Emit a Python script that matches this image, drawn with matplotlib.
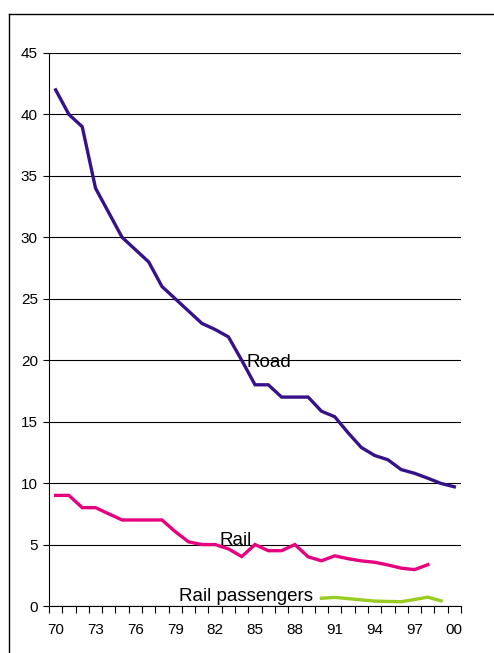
import matplotlib
matplotlib.use("Agg")
import matplotlib.pyplot as plt
from matplotlib.lines import Line2D
import numpy as np

plt.rcParams['font.family'] = ['Liberation Sans', 'DejaVu Sans']

years = ["70", "71", "72", "73", "74", "75", "76", "77", "78", "79",
         "80", "81", "82", "83", "84", "85", "86", "87", "88", "89",
         "90", "91", "92", "93", "94", "95", "96", "97", "98", "99", "00"]

road = [42, 40, 39, 34, 32, 30, 29, 28, 26, 25,
        24, 23, 22.5, 21.9, 20, 18, 18, 17, 17, 17,
        15.85, 15.4, 14.1, 12.9, 12.25, 11.9, 11.1, 10.8, 10.4, 9.97, 9.7]

rail = [9, 9, 8, 8, 7.5, 7, 7, 7, 7, 6.05,
        5.22, 5, 5, 4.65, 4.02, 5, 4.5, 4.5, 5, 4.0,
        3.68, 4.08, 3.85, 3.67, 3.56, 3.34, 3.08, 2.96, 3.36]

rail_pass = [0.63, 0.7, 0.6, 0.5, 0.4, 0.37, 0.35, 0.53, 0.72, 0.42]

yticks = [0, 5, 10, 15, 20, 25, 30, 35, 40, 45]

road_col = "#36128a"
rail_col = "#e6007e"
pass_col = "#99cc22"

fig = plt.figure(figsize=(4.94, 6.53), dpi=100)
ax = fig.add_axes([49 / 494, 1 - 606 / 653, 412 / 494, 553 / 653])

x = np.arange(len(years))
ax.plot(x, road, color=road_col, lw=2.4, solid_joinstyle="miter")
ax.plot(x[:len(rail)], rail, color=rail_col, lw=2.4, solid_joinstyle="miter")
ax.plot(x[20:20 + len(rail_pass)], rail_pass, color=pass_col, lw=2.4, solid_joinstyle="miter")

ax.set_xlim(-0.5, len(years) - 0.5)
ax.set_ylim(0, 45)
ax.set_yticks(yticks)
ax.yaxis.grid(True, color="black", lw=0.8)
ax.set_axisbelow(True)

ax.set_xticks(x[::3])
ax.set_xticklabels(years[::3])
ax.set_xticks(np.arange(-0.5, len(years), 1), minor=True)
ax.tick_params(axis="x", which="major", length=0, pad=12, labelsize=11)
ax.tick_params(axis="x", which="minor", length=5, width=0.8, direction="out")
ax.tick_params(axis="y", length=4, width=0.8, pad=4, labelsize=11)

for s in ["top", "right"]:
    ax.spines[s].set_visible(False)
for s in ["left", "bottom"]:
    ax.spines[s].set_linewidth(0.8)

ax.text(16.05, 19.47, "Road", ha="center", va="baseline", fontsize=13.5)
ax.text(13.57, 4.96, "Rail", ha="center", va="baseline", fontsize=13.5)
ax.text(14.32, 0.43, "Rail passengers", ha="center", va="baseline", fontsize=13.5)

# outer frame (cut at right and bottom)
fx = 8.5 / 494
fy = 1 - 13.5 / 653
fig.add_artist(Line2D([fx, 1], [fy, fy], color="black", lw=1, transform=fig.transFigure))
fig.add_artist(Line2D([fx, fx], [0, fy], color="black", lw=1, transform=fig.transFigure))

fig.savefig("out.png", dpi=100)
